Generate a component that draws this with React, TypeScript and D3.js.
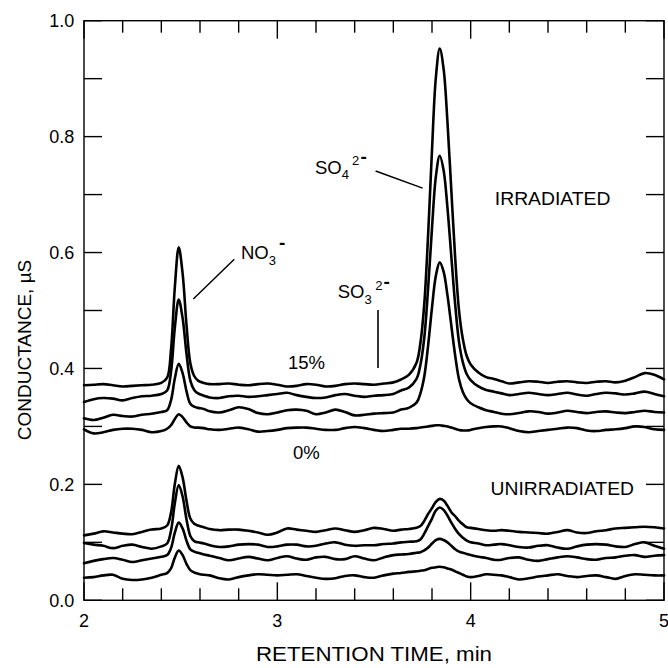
import React from "react";
import * as d3 from "d3";

// Retention time sample points (min)
const retentionTime = [
  2.00, 2.05, 2.10, 2.15, 2.20, 2.25, 2.30, 2.35, 2.40,
  2.43, 2.45, 2.47, 2.49, 2.51, 2.53, 2.55, 2.57, 2.59, 2.62, 2.65,
  2.70, 2.75, 2.80, 2.85, 2.90, 2.95, 3.00, 3.05, 3.10, 3.15, 3.20, 3.25, 3.30, 3.35, 3.40, 3.45, 3.50, 3.55, 3.60,
  3.64, 3.68, 3.72,
  3.74, 3.76, 3.78, 3.80, 3.82, 3.84, 3.86, 3.88, 3.90, 3.92, 3.94, 3.96, 3.98, 4.00,
  4.04, 4.08, 4.12, 4.16, 4.20,
  4.25, 4.30, 4.35, 4.40, 4.45, 4.50, 4.55, 4.60, 4.65, 4.70, 4.75, 4.80, 4.85, 4.90, 4.95, 5.00,
];

// Irradiated chromatograms (conductance, µS), top (15%) to bottom (0%)
const irradiated1 = [
  0.371, 0.372, 0.373, 0.371, 0.369, 0.370, 0.371, 0.372, 0.375,
  0.384, 0.432, 0.541, 0.609, 0.564, 0.476, 0.409, 0.387, 0.379, 0.375, 0.373,
  0.373, 0.374, 0.372, 0.371, 0.373, 0.374, 0.372, 0.369, 0.370, 0.373, 0.372, 0.369, 0.370, 0.373, 0.374, 0.373, 0.372, 0.374, 0.376,
  0.381, 0.389, 0.410,
  0.444, 0.511, 0.631, 0.777, 0.902, 0.952, 0.917, 0.825, 0.707, 0.590, 0.499, 0.450, 0.421, 0.407,
  0.393, 0.385, 0.382, 0.378, 0.374,
  0.376, 0.378, 0.377, 0.375, 0.377, 0.378, 0.376, 0.375, 0.377, 0.378, 0.376, 0.379, 0.385, 0.392, 0.389, 0.381,
];
const irradiated2 = [
  0.342, 0.347, 0.349, 0.348, 0.345, 0.349, 0.352, 0.353, 0.356,
  0.362, 0.394, 0.471, 0.519, 0.487, 0.426, 0.379, 0.363, 0.357, 0.353, 0.350,
  0.349, 0.352, 0.353, 0.351, 0.352, 0.354, 0.356, 0.358, 0.354, 0.351, 0.349, 0.350, 0.354, 0.356, 0.353, 0.351, 0.353, 0.354, 0.356,
  0.362, 0.367, 0.382,
  0.406, 0.453, 0.539, 0.642, 0.731, 0.767, 0.742, 0.677, 0.593, 0.510, 0.445, 0.410, 0.390, 0.380,
  0.369, 0.363, 0.360, 0.357, 0.354,
  0.356, 0.358, 0.356, 0.354, 0.356, 0.358, 0.355, 0.353, 0.356, 0.358, 0.357, 0.355, 0.357, 0.360, 0.356, 0.352,
];
const irradiated3 = [
  0.314, 0.311, 0.315, 0.320, 0.318, 0.317, 0.320, 0.322, 0.325,
  0.328, 0.345, 0.383, 0.408, 0.392, 0.361, 0.339, 0.334, 0.332, 0.330, 0.326,
  0.324, 0.328, 0.333, 0.330, 0.323, 0.321, 0.324, 0.328, 0.329, 0.327, 0.321, 0.324, 0.329, 0.325, 0.319, 0.320, 0.322, 0.323, 0.324,
  0.329, 0.332, 0.341,
  0.357, 0.386, 0.440, 0.505, 0.560, 0.583, 0.567, 0.526, 0.474, 0.422, 0.381, 0.359, 0.347, 0.340,
  0.333, 0.328, 0.325, 0.322, 0.321,
  0.323, 0.326, 0.325, 0.322, 0.324, 0.327, 0.325, 0.323, 0.325, 0.326, 0.324, 0.323, 0.325, 0.327, 0.325, 0.324,
];
const irradiated4 = [
  0.295, 0.288, 0.290, 0.294, 0.296, 0.296, 0.294, 0.290, 0.292,
  0.296, 0.302, 0.313, 0.321, 0.316, 0.307, 0.300, 0.298, 0.298, 0.297, 0.295,
  0.294, 0.296, 0.298, 0.295, 0.291, 0.292, 0.294, 0.297, 0.298, 0.298, 0.296, 0.294, 0.294, 0.297, 0.299, 0.297, 0.294, 0.292, 0.294,
  0.296, 0.296, 0.297,
  0.298, 0.299, 0.300, 0.301, 0.302, 0.302, 0.301, 0.300, 0.298, 0.296, 0.294, 0.293, 0.293, 0.294,
  0.297, 0.299, 0.300, 0.300, 0.297,
  0.292, 0.290, 0.292, 0.294, 0.296, 0.298, 0.297, 0.293, 0.292, 0.294, 0.295, 0.297, 0.300, 0.299, 0.295, 0.294,
];

// Unirradiated chromatograms
const unirradiated1 = [
  0.112, 0.115, 0.119, 0.117, 0.115, 0.114, 0.118, 0.122, 0.124,
  0.129, 0.151, 0.201, 0.232, 0.212, 0.172, 0.141, 0.132, 0.129, 0.126, 0.123,
  0.121, 0.122, 0.122, 0.120, 0.117, 0.113, 0.117, 0.124, 0.122, 0.120, 0.118, 0.121, 0.124, 0.121, 0.118, 0.121, 0.125, 0.123, 0.120,
  0.122, 0.123, 0.125,
  0.128, 0.137, 0.149, 0.159, 0.170, 0.175, 0.172, 0.163, 0.152, 0.145, 0.137, 0.131, 0.126, 0.125,
  0.123, 0.121, 0.120, 0.121, 0.120,
  0.118, 0.117, 0.116, 0.115, 0.118, 0.121, 0.117, 0.116, 0.119, 0.121, 0.124, 0.125, 0.126, 0.127, 0.126, 0.124,
];
const unirradiated2 = [
  0.099, 0.096, 0.094, 0.090, 0.094, 0.096, 0.092, 0.089, 0.093,
  0.098, 0.120, 0.168, 0.199, 0.179, 0.140, 0.111, 0.102, 0.100, 0.098, 0.095,
  0.092, 0.093, 0.096, 0.097, 0.096, 0.092, 0.093, 0.096, 0.096, 0.093, 0.094, 0.098, 0.100, 0.096, 0.094, 0.095, 0.095, 0.097, 0.098,
  0.100, 0.101, 0.102,
  0.105, 0.115, 0.128, 0.141, 0.155, 0.160, 0.156, 0.146, 0.134, 0.123, 0.114, 0.108, 0.103, 0.100,
  0.098, 0.095, 0.096, 0.097, 0.095,
  0.092, 0.091, 0.094, 0.095, 0.091, 0.089, 0.093, 0.096, 0.097, 0.096, 0.093, 0.092, 0.097, 0.100, 0.094, 0.089,
];
const unirradiated3 = [
  0.064, 0.068, 0.071, 0.073, 0.070, 0.066, 0.069, 0.072, 0.075,
  0.078, 0.090, 0.117, 0.134, 0.124, 0.103, 0.088, 0.084, 0.082, 0.079, 0.077,
  0.073, 0.069, 0.072, 0.075, 0.072, 0.069, 0.073, 0.076, 0.072, 0.070, 0.074, 0.075, 0.071, 0.071, 0.076, 0.072, 0.069, 0.074, 0.078,
  0.079, 0.080, 0.082,
  0.083, 0.086, 0.091, 0.098, 0.104, 0.106, 0.104, 0.100, 0.094, 0.088, 0.084, 0.082, 0.080, 0.078,
  0.075, 0.073, 0.070, 0.070, 0.073,
  0.074, 0.070, 0.068, 0.071, 0.074, 0.076, 0.074, 0.071, 0.070, 0.073, 0.074, 0.077, 0.078, 0.075, 0.077, 0.078,
];
const unirradiated4 = [
  0.039, 0.040, 0.043, 0.044, 0.037, 0.035, 0.036, 0.039, 0.044,
  0.047, 0.055, 0.074, 0.086, 0.078, 0.063, 0.052, 0.048, 0.046, 0.044, 0.043,
  0.038, 0.036, 0.040, 0.043, 0.045, 0.044, 0.043, 0.044, 0.045, 0.042, 0.039, 0.037, 0.038, 0.042, 0.043, 0.040, 0.039, 0.043, 0.046,
  0.047, 0.049, 0.050,
  0.051, 0.052, 0.054, 0.056, 0.057, 0.058, 0.057, 0.055, 0.053, 0.050, 0.047, 0.044, 0.041, 0.040,
  0.042, 0.045, 0.044, 0.043, 0.040,
  0.036, 0.038, 0.041, 0.043, 0.045, 0.042, 0.040, 0.042, 0.043, 0.040, 0.037, 0.042, 0.045, 0.044, 0.043, 0.043,
];

const allSeries = [
  irradiated1, irradiated2, irradiated3, irradiated4,
  unirradiated1, unirradiated2, unirradiated3, unirradiated4,
];

const xDomain = [2, 5];
const yDomain = [0, 1];
const xTitle = "RETENTION TIME, min";
const yTitle = "CONDUCTANCE, µS";

const FONT = "'Liberation Sans', Arial, Helvetica, sans-serif";

export default function App() {
  const W = 668;
  const H = 668;
  const left = 84, right = 664, top = 20.7, bottom = 600.3;

  const x = d3.scaleLinear().domain(xDomain).range([left, right]);
  const y = d3.scaleLinear().domain(yDomain).range([bottom, top]);

  const line = d3
    .line<number>()
    .x((_, i) => x(retentionTime[i]))
    .y((d) => y(d))
    .curve(d3.curveCatmullRom.alpha(0.5));

  const xTicks = x.ticks(15);
  const isMajorX = (t: number) => Math.abs(t - Math.round(t)) < 1e-6;
  const yTicks = y.ticks(10);
  const yLabelTicks = y.ticks(5);
  const fmtY = d3.format(".1f");
  const fmtX = d3.format("d");

  const tickStroke = { stroke: "#000", strokeWidth: 1.4 };

  return (
    <svg
      width={W}
      height={H}
      viewBox={`0 0 ${W} ${H}`}
      style={{ position: "absolute", left: 0, top: 0, background: "#fff" }}
      fontFamily={FONT}
    >
      <rect x={0} y={0} width={W} height={H} fill="#fff" />

      {/* traces */}
      <g fill="none" stroke="#000" strokeWidth={2.6} strokeLinejoin="round" strokeLinecap="round">
        {allSeries.map((s, i) => (
          <path key={i} d={line(s) || ""} />
        ))}
      </g>

      {/* frame */}
      <rect x={left} y={top} width={right - left} height={bottom - top} fill="none" stroke="#000" strokeWidth={1.4} />

      {/* x ticks (bottom & top, inward) */}
      {xTicks.map((t, i) => {
        const len = isMajorX(t) ? 18 : 12;
        return (
          <g key={"xt" + i}>
            <line x1={x(t)} x2={x(t)} y1={bottom} y2={bottom - len} {...tickStroke} />
            <line x1={x(t)} x2={x(t)} y1={top} y2={top + len} {...tickStroke} />
          </g>
        );
      })}
      {xTicks.filter(isMajorX).map((t, i) => (
        <text key={"xl" + i} x={x(t)} y={626.7} fontSize={18} textAnchor="middle">
          {fmtX(t)}
        </text>
      ))}

      {/* y ticks (left & right, inward) */}
      {yTicks.map((t, i) => (
        <g key={"yt" + i}>
          <line x1={left} x2={left + 18} y1={y(t)} y2={y(t)} {...tickStroke} />
          <line x1={right} x2={right - 18} y1={y(t)} y2={y(t)} {...tickStroke} />
        </g>
      ))}
      {yLabelTicks.map((t, i) => (
        <text key={"yl" + i} x={74.3} y={y(t) + 6.6} fontSize={18} textAnchor="end">
          {fmtY(t)}
        </text>
      ))}

      {/* axis titles */}
      <text x={374} y={661} fontSize={20} textAnchor="middle" textLength={236} lengthAdjust="spacingAndGlyphs">
        {xTitle}
      </text>
      <text
        transform={`translate(30.5, 350) rotate(-90)`}
        fontSize={19}
        textAnchor="middle"
      >
        {yTitle}
      </text>

      {/* annotations */}
      <g fontSize={18.5}>
        <text>
          <tspan x={241} y={259.3}>NO</tspan>
          <tspan fontSize={13} y={265.3}>3</tspan>
          <tspan fontSize={19} fontWeight="bold" x={279} y={249}>-</tspan>
        </text>
        <line x1={193.3} y1={299} x2={234.3} y2={259.3} stroke="#000" strokeWidth={1.5} />

        <text>
          <tspan x={315} y={173.5}>SO</tspan>
          <tspan fontSize={13} y={179}>4</tspan>
          <tspan fontSize={13} x={352} y={165}>2</tspan>
          <tspan fontSize={19} fontWeight="bold" x={360.5} y={163}>-</tspan>
        </text>
        <line x1={375.6} y1={171} x2={422.6} y2={188.1} stroke="#000" strokeWidth={1.5} />

        <text>
          <tspan x={337.7} y={298.4}>SO</tspan>
          <tspan fontSize={13} y={304}>3</tspan>
          <tspan fontSize={13} x={375.3} y={290}>2</tspan>
          <tspan fontSize={19} fontWeight="bold" x={383.5} y={288}>-</tspan>
        </text>
        <line x1={378} y1={310} x2={378} y2={368} stroke="#000" strokeWidth={1.6} />

        <text x={494.8} y={205.3} textLength={115.7} lengthAdjust="spacingAndGlyphs">IRRADIATED</text>
        <text x={490.6} y={495} textLength={143.4} lengthAdjust="spacingAndGlyphs">UNIRRADIATED</text>
        <text x={288} y={369.3}>15%</text>
        <text x={293} y={459.3}>0%</text>
      </g>
    </svg>
  );
}
